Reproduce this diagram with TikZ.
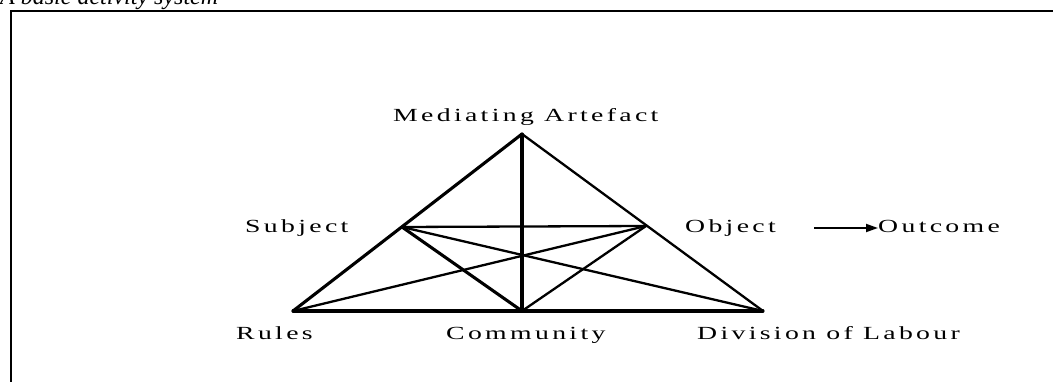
\documentclass[tikz,border=0pt]{standalone}
\usepackage{graphicx}
\usepackage{fontspec}
\setmainfont{Liberation Serif}
\newfontfamily\lblfont[LetterSpace=12]{Liberation Serif}
\newcommand\widelbl[1]{\scalebox{1.5}[1]{#1}}
\usetikzlibrary{arrows.meta}
\begin{document}
\begin{tikzpicture}[x=1pt,y=-1pt,
  lbl/.style={inner sep=0pt,anchor=base west,font=\lblfont\fontsize{18.5}{22}\selectfont},
  thinline/.style={line width=2.3pt,line cap=round},
  thickline/.style={line width=3.1pt,line cap=round},
  outarrow/.style={line width=1.8pt,-{Triangle[length=12pt,width=8pt]}}]
\useasboundingbox (0,0) rectangle (1053,382);
\clip (0,0) rectangle (1053,382);
\fill[white] (0,0) rectangle (1053,382);
% caption (cut off at top)
\node[inner sep=0pt,anchor=base west,font=\itshape\fontsize{24}{28}\selectfont] (cap) at (0,5) {A basic activity system};
% frame
\draw[line width=2.6pt] (11,395) -- (11,11) -- (1065,11);
% vertices
\coordinate (A) at (522,134);
\coordinate (S) at (402,227);
\coordinate (O) at (646,226);
\coordinate (R) at (293,311);
\coordinate (C) at (522,311);
\coordinate (D) at (763,311);
% connectors
\draw[thickline] (A) -- (R);
\draw[thinline] (A) -- (D);
\draw[thickline] (A) -- (C);
\draw[thickline] (R) -- (D);
\draw[thinline] (S) -- (O);
\draw[thickline] (S) -- (C);
\draw[thinline] (S) -- (D);
\draw[thinline] (O) -- (R);
\draw[thinline] (O) -- (C);
% labels
\node[lbl] (lA) at (393,122) {\widelbl{Mediating Artefact}};
\node[lbl] (lS) at (245,233) {\widelbl{Subject}};
\node[lbl] (lO) at (685,233) {\widelbl{Object}};
\node[lbl] (lOut) at (878,233) {\widelbl{Outcome}};
\node[lbl] (lR) at (236,340) {\widelbl{Rules}};
\node[lbl] (lC) at (446,340) {\widelbl{Community}};
\node[lbl] (lD) at (697,340) {\widelbl{Division of Labour}};
\coordinate (arrS) at (814,228);
\draw[outarrow] (arrS) -- (lOut.west |- arrS);
\end{tikzpicture}
\end{document}
